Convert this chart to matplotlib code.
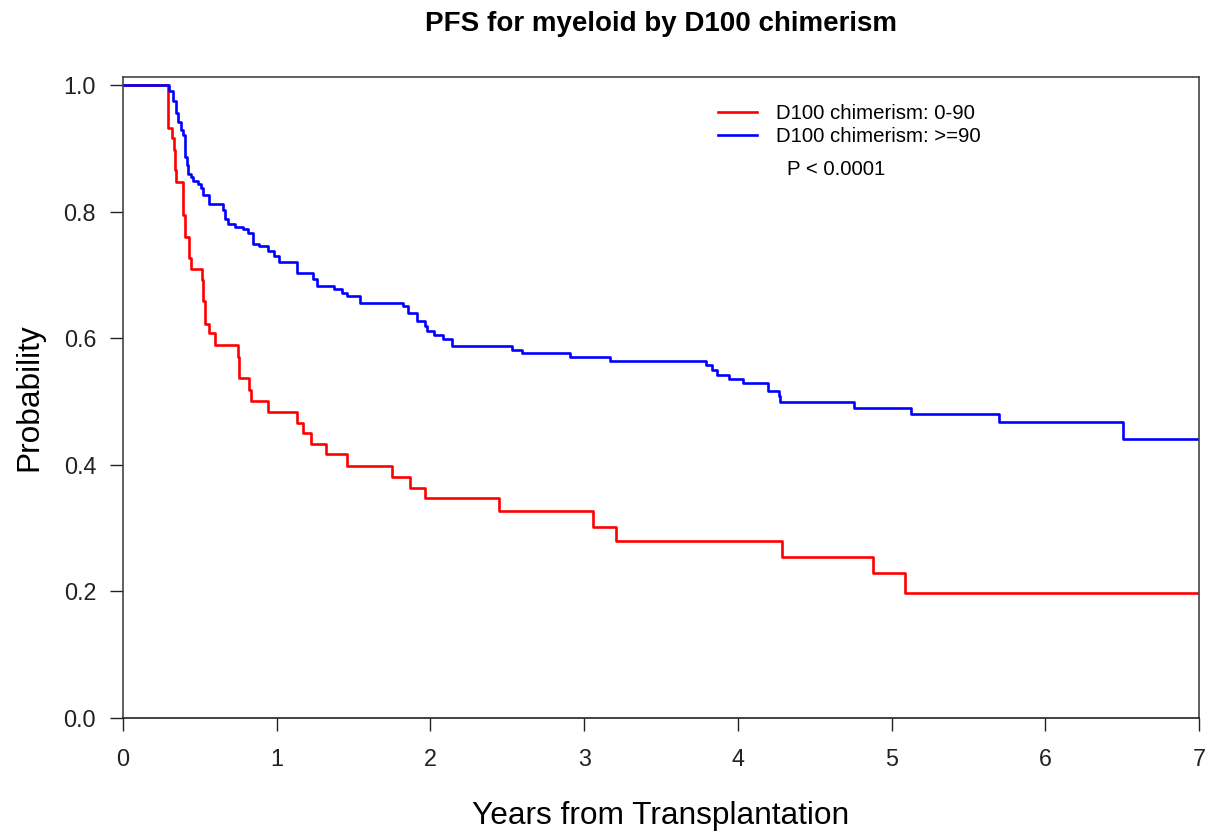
import numpy as np
import matplotlib.pyplot as plt

plt.rcParams['font.family'] = ['Liberation Sans', 'DejaVu Sans']

# Kaplan-Meier step data (time in years, survival after each drop)
t_low = [0, 0.295, 0.317, 0.332, 0.338, 0.345, 0.388, 0.403, 0.428, 0.441,
         0.512, 0.518, 0.534, 0.562, 0.599, 0.750, 0.757, 0.822, 0.831, 0.946,
         1.130, 1.173, 1.221, 1.321, 1.455, 1.748, 1.867, 1.965, 2.446, 3.060,
         3.210, 4.285, 4.882, 5.088, 7.0]
p_low = [1.0, 0.932, 0.916, 0.897, 0.866, 0.847, 0.795, 0.760, 0.727, 0.710,
         0.692, 0.658, 0.623, 0.608, 0.589, 0.571, 0.537, 0.518, 0.501, 0.484,
         0.466, 0.451, 0.433, 0.417, 0.398, 0.381, 0.364, 0.348, 0.327, 0.302,
         0.279, 0.254, 0.229, 0.198, 0.198]

t_high = [0, 0.301, 0.323, 0.345, 0.360, 0.375, 0.393, 0.403, 0.414, 0.425,
          0.440, 0.458, 0.490, 0.505, 0.523, 0.562, 0.653, 0.664, 0.686, 0.729,
          0.781, 0.815, 0.848, 0.885, 0.946, 0.985, 1.017, 1.130, 1.234, 1.264,
          1.375, 1.423, 1.455, 1.542, 1.824, 1.857, 1.911, 1.965, 1.975, 2.026,
          2.084, 2.143, 2.533, 2.594, 2.908, 3.169, 3.793, 3.834, 3.867, 3.945,
          4.032, 4.199, 4.265, 4.275, 4.758, 5.127, 5.700, 6.504, 7.0]
p_high = [1.0, 0.990, 0.974, 0.955, 0.942, 0.929, 0.921, 0.887, 0.874, 0.860,
          0.854, 0.848, 0.843, 0.837, 0.826, 0.812, 0.803, 0.788, 0.781, 0.776,
          0.772, 0.766, 0.749, 0.745, 0.737, 0.730, 0.721, 0.703, 0.693, 0.682,
          0.678, 0.671, 0.666, 0.655, 0.651, 0.640, 0.627, 0.620, 0.612, 0.605,
          0.599, 0.588, 0.582, 0.577, 0.570, 0.564, 0.557, 0.549, 0.542, 0.536,
          0.529, 0.517, 0.509, 0.499, 0.490, 0.481, 0.467, 0.441, 0.441]

labels = ['D100 chimerism: 0-90', 'D100 chimerism: >=90']

fig = plt.figure(figsize=(12.12, 8.38), dpi=100)
ax = fig.add_axes([0.1015, 0.1432, 0.8878, 0.7649])

ax.step(t_low, p_low, where='post', color='#ff0000', lw=1.9, label=labels[0])
ax.step(t_high, p_high, where='post', color='#0000ff', lw=1.9, label=labels[1])

ax.set_xlim(0, 7)
ax.set_ylim(0, 1.0126)
ax.set_xticks(range(8))
ax.set_yticks([0.0, 0.2, 0.4, 0.6, 0.8, 1.0])
ax.set_yticklabels(['0.0', '0.2', '0.4', '0.6', '0.8', '1.0'])
ax.tick_params(direction='out', length=9.4, width=1, colors='#222222',
               labelsize=16.8)
ax.tick_params(axis='x', pad=12.5)
ax.tick_params(axis='y', pad=10)
for s in ax.spines.values():
    s.set_color('#444444')
    s.set_linewidth(1.2)
ax.spines['bottom'].set_color('#222222')

ax.set_xlabel('Years from Transplantation', fontsize=22.8, labelpad=21)
ax.set_ylabel('Probability', fontsize=22.8, labelpad=14)
fig.text(0.5454, 0.971, 'PFS for myeloid by D100 chimerism', ha='center',
         va='center', fontsize=20, fontweight='bold')

leg = ax.legend(loc='upper left', bbox_to_anchor=(0.553, 0.958), frameon=False,
                fontsize=14.7, handlelength=1.9, handletextpad=0.93,
                labelspacing=0.2, borderpad=0, borderaxespad=0)
ax.text(0.617, 0.856, 'P < 0.0001', transform=ax.transAxes, fontsize=14.7,
        va='center', ha='left')

fig.savefig('out.png', dpi=100)
